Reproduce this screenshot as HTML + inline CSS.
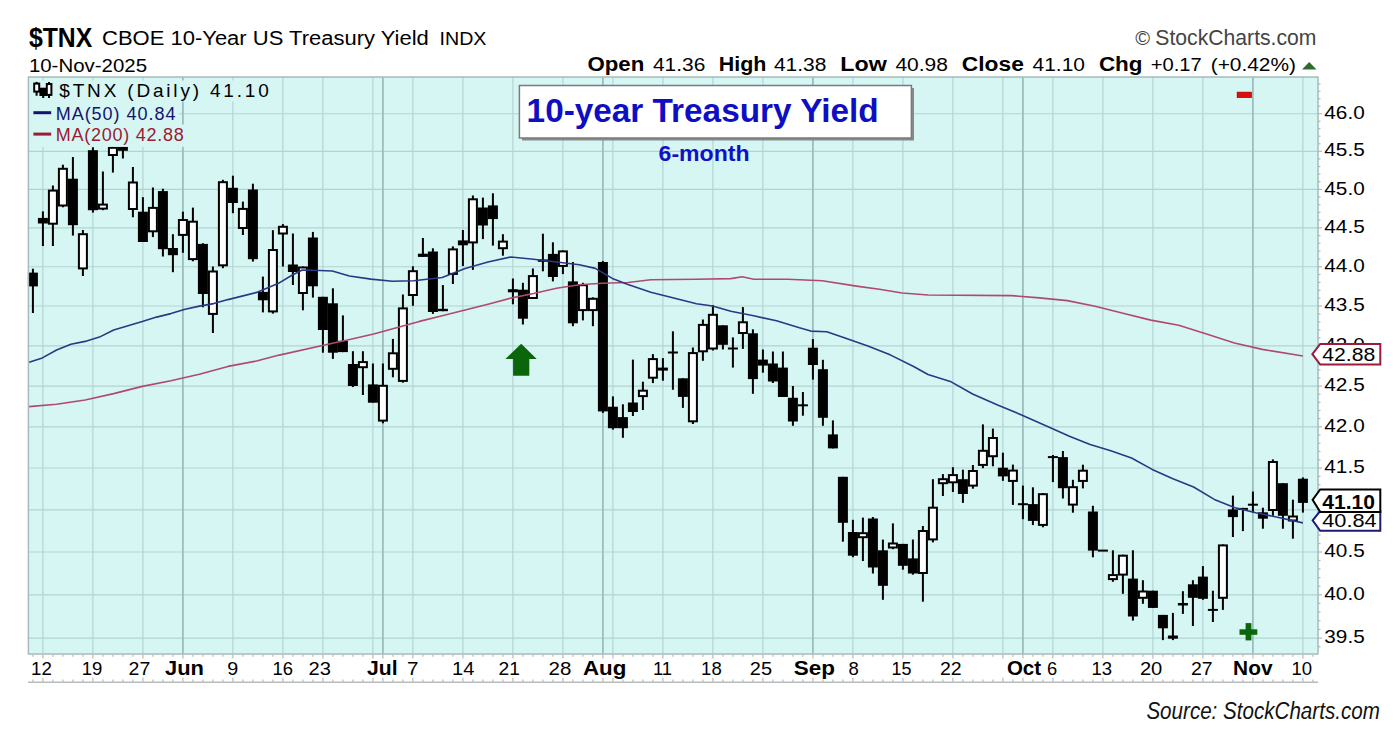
<!DOCTYPE html>
<html><head><meta charset="utf-8"><title>$TNX chart</title>
<style>
html,body{margin:0;padding:0;background:#fff;}
body{width:1400px;height:744px;overflow:hidden;}
svg{display:block;font-family:"Liberation Sans", sans-serif;}
</style></head>
<body>
<svg width="1400" height="744" viewBox="0 0 1400 744">
<rect width="1400" height="744" fill="#fff"/>
<rect x="28" y="77" width="1290" height="577" fill="#d6f6f4"/>
<line x1="28" x2="1318" y1="638.1" y2="638.1" stroke="#b3d3d1" stroke-width="1.15"/>
<line x1="28" x2="1318" y1="594.8" y2="594.8" stroke="#b3d3d1" stroke-width="1.15"/>
<line x1="28" x2="1318" y1="552.0" y2="552.0" stroke="#b3d3d1" stroke-width="1.15"/>
<line x1="28" x2="1318" y1="509.8" y2="509.8" stroke="#b3d3d1" stroke-width="1.15"/>
<line x1="28" x2="1318" y1="468.0" y2="468.0" stroke="#b3d3d1" stroke-width="1.15"/>
<line x1="28" x2="1318" y1="426.8" y2="426.8" stroke="#b3d3d1" stroke-width="1.15"/>
<line x1="28" x2="1318" y1="386.1" y2="386.1" stroke="#b3d3d1" stroke-width="1.15"/>
<line x1="28" x2="1318" y1="345.8" y2="345.8" stroke="#b3d3d1" stroke-width="1.15"/>
<line x1="28" x2="1318" y1="306.0" y2="306.0" stroke="#b3d3d1" stroke-width="1.15"/>
<line x1="28" x2="1318" y1="266.7" y2="266.7" stroke="#b3d3d1" stroke-width="1.15"/>
<line x1="28" x2="1318" y1="227.8" y2="227.8" stroke="#b3d3d1" stroke-width="1.15"/>
<line x1="28" x2="1318" y1="189.4" y2="189.4" stroke="#b3d3d1" stroke-width="1.15"/>
<line x1="28" x2="1318" y1="151.3" y2="151.3" stroke="#b3d3d1" stroke-width="1.15"/>
<line x1="28" x2="1318" y1="113.7" y2="113.7" stroke="#b3d3d1" stroke-width="1.15"/>
<line x1="42.9" x2="42.9" y1="77" y2="654" stroke="#b3d3d1" stroke-width="1.15"/>
<line x1="92.9" x2="92.9" y1="77" y2="654" stroke="#b3d3d1" stroke-width="1.15"/>
<line x1="142.9" x2="142.9" y1="77" y2="654" stroke="#b3d3d1" stroke-width="1.15"/>
<line x1="232.9" x2="232.9" y1="77" y2="654" stroke="#b3d3d1" stroke-width="1.15"/>
<line x1="282.9" x2="282.9" y1="77" y2="654" stroke="#b3d3d1" stroke-width="1.15"/>
<line x1="322.9" x2="322.9" y1="77" y2="654" stroke="#b3d3d1" stroke-width="1.15"/>
<line x1="372.9" x2="372.9" y1="77" y2="654" stroke="#b3d3d1" stroke-width="1.15"/>
<line x1="412.9" x2="412.9" y1="77" y2="654" stroke="#b3d3d1" stroke-width="1.15"/>
<line x1="462.9" x2="462.9" y1="77" y2="654" stroke="#b3d3d1" stroke-width="1.15"/>
<line x1="512.9" x2="512.9" y1="77" y2="654" stroke="#b3d3d1" stroke-width="1.15"/>
<line x1="562.9" x2="562.9" y1="77" y2="654" stroke="#b3d3d1" stroke-width="1.15"/>
<line x1="612.9" x2="612.9" y1="77" y2="654" stroke="#b3d3d1" stroke-width="1.15"/>
<line x1="662.9" x2="662.9" y1="77" y2="654" stroke="#b3d3d1" stroke-width="1.15"/>
<line x1="712.9" x2="712.9" y1="77" y2="654" stroke="#b3d3d1" stroke-width="1.15"/>
<line x1="762.9" x2="762.9" y1="77" y2="654" stroke="#b3d3d1" stroke-width="1.15"/>
<line x1="852.9" x2="852.9" y1="77" y2="654" stroke="#b3d3d1" stroke-width="1.15"/>
<line x1="902.9" x2="902.9" y1="77" y2="654" stroke="#b3d3d1" stroke-width="1.15"/>
<line x1="952.9" x2="952.9" y1="77" y2="654" stroke="#b3d3d1" stroke-width="1.15"/>
<line x1="1002.9" x2="1002.9" y1="77" y2="654" stroke="#b3d3d1" stroke-width="1.15"/>
<line x1="1052.9" x2="1052.9" y1="77" y2="654" stroke="#b3d3d1" stroke-width="1.15"/>
<line x1="1102.9" x2="1102.9" y1="77" y2="654" stroke="#b3d3d1" stroke-width="1.15"/>
<line x1="1152.9" x2="1152.9" y1="77" y2="654" stroke="#b3d3d1" stroke-width="1.15"/>
<line x1="1202.9" x2="1202.9" y1="77" y2="654" stroke="#b3d3d1" stroke-width="1.15"/>
<line x1="1302.9" x2="1302.9" y1="77" y2="654" stroke="#b3d3d1" stroke-width="1.15"/>
<line x1="182.9" x2="182.9" y1="77" y2="654" stroke="#9abebe" stroke-width="1.8"/>
<line x1="382.9" x2="382.9" y1="77" y2="654" stroke="#9abebe" stroke-width="1.8"/>
<line x1="602.9" x2="602.9" y1="77" y2="654" stroke="#9abebe" stroke-width="1.8"/>
<line x1="812.9" x2="812.9" y1="77" y2="654" stroke="#9abebe" stroke-width="1.8"/>
<line x1="1022.9" x2="1022.9" y1="77" y2="654" stroke="#9abebe" stroke-width="1.8"/>
<line x1="1252.9" x2="1252.9" y1="77" y2="654" stroke="#9abebe" stroke-width="1.8"/>
<rect x="31.9" y="268.7" width="2.0" height="44.3" fill="#000"/>
<rect x="27.9" y="272.6" width="10.0" height="13.8" fill="#000"/>
<rect x="41.9" y="211.4" width="2.0" height="34.6" fill="#000"/>
<rect x="37.9" y="217.9" width="10.0" height="5.6" fill="#000"/>
<rect x="51.9" y="185.5" width="2.0" height="60.5" fill="#000"/>
<rect x="48.9" y="190.6" width="8.0" height="33.1" fill="#fff" stroke="#000" stroke-width="2.0"/>
<rect x="61.9" y="164.7" width="2.0" height="42.6" fill="#000"/>
<rect x="58.9" y="168.8" width="8.0" height="36.7" fill="#fff" stroke="#000" stroke-width="2.0"/>
<rect x="71.9" y="157.0" width="2.0" height="78.6" fill="#000"/>
<rect x="67.9" y="178.7" width="10.0" height="46.5" fill="#000"/>
<rect x="81.9" y="230.0" width="2.0" height="46.0" fill="#000"/>
<rect x="78.9" y="234.2" width="8.0" height="34.2" fill="#fff" stroke="#000" stroke-width="2.0"/>
<rect x="91.9" y="147.3" width="2.0" height="65.3" fill="#000"/>
<rect x="87.9" y="150.2" width="10.0" height="60.0" fill="#000"/>
<rect x="101.9" y="171.5" width="2.0" height="38.7" fill="#000"/>
<rect x="98.9" y="204.6" width="8.0" height="4.0" fill="#fff" stroke="#000" stroke-width="2.0"/>
<rect x="111.9" y="146.8" width="2.0" height="25.8" fill="#000"/>
<rect x="108.9" y="147.8" width="8.0" height="7.2" fill="#fff" stroke="#000" stroke-width="2.0"/>
<rect x="121.9" y="146.8" width="2.0" height="11.7" fill="#000"/>
<rect x="117.9" y="146.8" width="10.0" height="4.0" fill="#000"/>
<rect x="131.9" y="167.0" width="2.0" height="50.3" fill="#000"/>
<rect x="128.9" y="182.5" width="8.0" height="26.5" fill="#fff" stroke="#000" stroke-width="2.0"/>
<rect x="141.9" y="197.2" width="2.0" height="44.8" fill="#000"/>
<rect x="137.9" y="211.7" width="10.0" height="30.3" fill="#000"/>
<rect x="151.9" y="187.5" width="2.0" height="49.6" fill="#000"/>
<rect x="148.9" y="207.9" width="8.0" height="23.4" fill="#fff" stroke="#000" stroke-width="2.0"/>
<rect x="161.9" y="188.7" width="2.0" height="67.8" fill="#000"/>
<rect x="157.9" y="191.1" width="10.0" height="58.1" fill="#000"/>
<rect x="171.9" y="234.2" width="2.0" height="38.0" fill="#000"/>
<rect x="167.9" y="248.0" width="10.0" height="7.2" fill="#000"/>
<rect x="181.9" y="211.7" width="2.0" height="41.1" fill="#000"/>
<rect x="178.9" y="220.0" width="8.0" height="14.9" fill="#fff" stroke="#000" stroke-width="2.0"/>
<rect x="191.9" y="207.6" width="2.0" height="53.7" fill="#000"/>
<rect x="188.9" y="221.7" width="8.0" height="37.4" fill="#fff" stroke="#000" stroke-width="2.0"/>
<rect x="201.9" y="243.2" width="2.0" height="64.1" fill="#000"/>
<rect x="197.9" y="243.9" width="10.0" height="50.1" fill="#000"/>
<rect x="211.9" y="266.5" width="2.0" height="66.5" fill="#000"/>
<rect x="208.9" y="271.5" width="8.0" height="42.4" fill="#fff" stroke="#000" stroke-width="2.0"/>
<rect x="221.9" y="179.8" width="2.0" height="88.4" fill="#000"/>
<rect x="218.9" y="182.2" width="8.0" height="83.1" fill="#fff" stroke="#000" stroke-width="2.0"/>
<rect x="231.9" y="175.7" width="2.0" height="37.5" fill="#000"/>
<rect x="227.9" y="187.8" width="10.0" height="15.2" fill="#000"/>
<rect x="241.9" y="201.6" width="2.0" height="33.4" fill="#000"/>
<rect x="238.9" y="208.9" width="8.0" height="19.1" fill="#fff" stroke="#000" stroke-width="2.0"/>
<rect x="251.9" y="183.7" width="2.0" height="77.9" fill="#000"/>
<rect x="247.9" y="189.5" width="10.0" height="69.7" fill="#000"/>
<rect x="261.9" y="276.6" width="2.0" height="35.8" fill="#000"/>
<rect x="257.9" y="291.9" width="10.0" height="8.4" fill="#000"/>
<rect x="271.9" y="230.2" width="2.0" height="83.4" fill="#000"/>
<rect x="268.9" y="250.0" width="8.0" height="61.4" fill="#fff" stroke="#000" stroke-width="2.0"/>
<rect x="281.9" y="224.1" width="2.0" height="42.4" fill="#000"/>
<rect x="278.9" y="226.8" width="8.0" height="6.7" fill="#fff" stroke="#000" stroke-width="2.0"/>
<rect x="291.9" y="233.5" width="2.0" height="51.5" fill="#000"/>
<rect x="287.9" y="264.5" width="10.0" height="7.5" fill="#000"/>
<rect x="301.9" y="266.5" width="2.0" height="43.8" fill="#000"/>
<rect x="298.9" y="267.5" width="8.0" height="25.5" fill="#fff" stroke="#000" stroke-width="2.0"/>
<rect x="311.9" y="231.9" width="2.0" height="65.7" fill="#000"/>
<rect x="307.9" y="237.5" width="10.0" height="48.8" fill="#000"/>
<rect x="321.9" y="296.8" width="2.0" height="55.9" fill="#000"/>
<rect x="317.9" y="296.8" width="10.0" height="33.2" fill="#000"/>
<rect x="331.9" y="288.3" width="2.0" height="70.6" fill="#000"/>
<rect x="327.9" y="303.3" width="10.0" height="49.4" fill="#000"/>
<rect x="341.9" y="315.4" width="2.0" height="36.7" fill="#000"/>
<rect x="337.9" y="340.8" width="10.0" height="11.3" fill="#000"/>
<rect x="351.9" y="351.2" width="2.0" height="35.9" fill="#000"/>
<rect x="347.9" y="364.0" width="10.0" height="22.0" fill="#000"/>
<rect x="361.9" y="351.2" width="2.0" height="43.8" fill="#000"/>
<rect x="358.9" y="362.1" width="8.0" height="5.1" fill="#fff" stroke="#000" stroke-width="2.0"/>
<rect x="371.9" y="363.5" width="2.0" height="39.2" fill="#000"/>
<rect x="367.9" y="384.4" width="10.0" height="18.3" fill="#000"/>
<rect x="381.9" y="363.5" width="2.0" height="59.8" fill="#000"/>
<rect x="378.9" y="385.8" width="8.0" height="34.8" fill="#fff" stroke="#000" stroke-width="2.0"/>
<rect x="391.9" y="338.9" width="2.0" height="38.4" fill="#000"/>
<rect x="388.9" y="353.3" width="8.0" height="15.5" fill="#fff" stroke="#000" stroke-width="2.0"/>
<rect x="401.9" y="294.5" width="2.0" height="88.2" fill="#000"/>
<rect x="398.9" y="308.4" width="8.0" height="72.5" fill="#fff" stroke="#000" stroke-width="2.0"/>
<rect x="411.9" y="266.3" width="2.0" height="39.5" fill="#000"/>
<rect x="408.9" y="271.2" width="8.0" height="23.8" fill="#fff" stroke="#000" stroke-width="2.0"/>
<rect x="421.9" y="238.0" width="2.0" height="18.9" fill="#000"/>
<rect x="417.9" y="253.7" width="10.0" height="3.2" fill="#000"/>
<rect x="431.9" y="248.3" width="2.0" height="65.6" fill="#000"/>
<rect x="427.9" y="251.5" width="10.0" height="60.5" fill="#000"/>
<rect x="441.9" y="285.1" width="2.0" height="26.1" fill="#000"/>
<rect x="437.9" y="308.8" width="10.0" height="2.4" fill="#000"/>
<rect x="451.9" y="246.4" width="2.0" height="37.6" fill="#000"/>
<rect x="448.9" y="249.4" width="8.0" height="24.5" fill="#fff" stroke="#000" stroke-width="2.0"/>
<rect x="461.9" y="230.0" width="2.0" height="36.0" fill="#000"/>
<rect x="457.9" y="240.4" width="10.0" height="4.9" fill="#000"/>
<rect x="471.9" y="195.5" width="2.0" height="74.4" fill="#000"/>
<rect x="468.9" y="199.3" width="8.0" height="43.1" fill="#fff" stroke="#000" stroke-width="2.0"/>
<rect x="481.9" y="197.6" width="2.0" height="41.5" fill="#000"/>
<rect x="477.9" y="207.5" width="10.0" height="18.0" fill="#000"/>
<rect x="491.9" y="193.3" width="2.0" height="52.3" fill="#000"/>
<rect x="487.9" y="205.4" width="10.0" height="13.7" fill="#000"/>
<rect x="501.9" y="234.2" width="2.0" height="21.5" fill="#000"/>
<rect x="498.9" y="241.6" width="8.0" height="6.6" fill="#fff" stroke="#000" stroke-width="2.0"/>
<rect x="511.9" y="278.5" width="2.0" height="25.8" fill="#000"/>
<rect x="507.9" y="289.2" width="10.0" height="3.1" fill="#000"/>
<rect x="521.9" y="282.8" width="2.0" height="41.7" fill="#000"/>
<rect x="517.9" y="289.7" width="10.0" height="29.0" fill="#000"/>
<rect x="531.9" y="268.5" width="2.0" height="30.5" fill="#000"/>
<rect x="528.9" y="276.1" width="8.0" height="21.9" fill="#fff" stroke="#000" stroke-width="2.0"/>
<rect x="541.9" y="233.7" width="2.0" height="37.6" fill="#000"/>
<rect x="537.9" y="259.4" width="10.0" height="2.4" fill="#000"/>
<rect x="551.9" y="242.3" width="2.0" height="39.1" fill="#000"/>
<rect x="547.9" y="253.9" width="10.0" height="23.1" fill="#000"/>
<rect x="561.9" y="250.4" width="2.0" height="23.7" fill="#000"/>
<rect x="558.9" y="251.4" width="8.0" height="14.5" fill="#fff" stroke="#000" stroke-width="2.0"/>
<rect x="571.9" y="262.0" width="2.0" height="64.2" fill="#000"/>
<rect x="567.9" y="281.4" width="10.0" height="41.9" fill="#000"/>
<rect x="581.9" y="282.8" width="2.0" height="37.6" fill="#000"/>
<rect x="578.9" y="285.2" width="8.0" height="24.9" fill="#fff" stroke="#000" stroke-width="2.0"/>
<rect x="591.9" y="297.3" width="2.0" height="28.9" fill="#000"/>
<rect x="588.9" y="298.8" width="8.0" height="11.3" fill="#fff" stroke="#000" stroke-width="2.0"/>
<rect x="601.9" y="261.1" width="2.0" height="151.8" fill="#000"/>
<rect x="597.9" y="262.0" width="10.0" height="149.4" fill="#000"/>
<rect x="611.9" y="396.4" width="2.0" height="33.2" fill="#000"/>
<rect x="607.9" y="406.7" width="10.0" height="21.5" fill="#000"/>
<rect x="621.9" y="404.3" width="2.0" height="33.5" fill="#000"/>
<rect x="617.9" y="417.1" width="10.0" height="11.1" fill="#000"/>
<rect x="631.9" y="359.6" width="2.0" height="56.4" fill="#000"/>
<rect x="627.9" y="402.5" width="10.0" height="9.5" fill="#000"/>
<rect x="641.9" y="381.7" width="2.0" height="28.3" fill="#000"/>
<rect x="638.9" y="390.7" width="8.0" height="5.4" fill="#fff" stroke="#000" stroke-width="2.0"/>
<rect x="651.9" y="354.1" width="2.0" height="29.0" fill="#000"/>
<rect x="648.9" y="359.1" width="8.0" height="18.6" fill="#fff" stroke="#000" stroke-width="2.0"/>
<rect x="661.9" y="358.1" width="2.0" height="22.6" fill="#000"/>
<rect x="657.9" y="367.6" width="10.0" height="3.0" fill="#000"/>
<rect x="671.9" y="331.3" width="2.0" height="58.5" fill="#000"/>
<rect x="667.9" y="351.5" width="10.0" height="2.0" fill="#000"/>
<rect x="681.9" y="378.3" width="2.0" height="29.6" fill="#000"/>
<rect x="677.9" y="378.3" width="10.0" height="18.6" fill="#000"/>
<rect x="691.9" y="347.5" width="2.0" height="76.5" fill="#000"/>
<rect x="688.9" y="353.1" width="8.0" height="68.2" fill="#fff" stroke="#000" stroke-width="2.0"/>
<rect x="701.9" y="319.5" width="2.0" height="41.3" fill="#000"/>
<rect x="698.9" y="324.9" width="8.0" height="26.4" fill="#fff" stroke="#000" stroke-width="2.0"/>
<rect x="711.9" y="305.1" width="2.0" height="45.4" fill="#000"/>
<rect x="708.9" y="314.8" width="8.0" height="33.7" fill="#fff" stroke="#000" stroke-width="2.0"/>
<rect x="721.9" y="325.3" width="2.0" height="24.2" fill="#000"/>
<rect x="717.9" y="325.3" width="10.0" height="19.5" fill="#000"/>
<rect x="731.9" y="337.4" width="2.0" height="30.2" fill="#000"/>
<rect x="727.9" y="347.5" width="10.0" height="2.0" fill="#000"/>
<rect x="741.9" y="307.1" width="2.0" height="41.8" fill="#000"/>
<rect x="738.9" y="322.3" width="8.0" height="10.7" fill="#fff" stroke="#000" stroke-width="2.0"/>
<rect x="751.9" y="329.3" width="2.0" height="64.5" fill="#000"/>
<rect x="747.9" y="333.3" width="10.0" height="45.8" fill="#000"/>
<rect x="761.9" y="349.5" width="2.0" height="23.2" fill="#000"/>
<rect x="757.9" y="359.6" width="10.0" height="6.0" fill="#000"/>
<rect x="771.9" y="351.5" width="2.0" height="31.5" fill="#000"/>
<rect x="767.9" y="363.5" width="10.0" height="18.0" fill="#000"/>
<rect x="781.9" y="351.5" width="2.0" height="45.5" fill="#000"/>
<rect x="777.9" y="367.6" width="10.0" height="29.4" fill="#000"/>
<rect x="791.9" y="386.0" width="2.0" height="39.8" fill="#000"/>
<rect x="787.9" y="397.8" width="10.0" height="23.7" fill="#000"/>
<rect x="801.9" y="392.0" width="2.0" height="23.7" fill="#000"/>
<rect x="797.9" y="404.3" width="10.0" height="2.0" fill="#000"/>
<rect x="811.9" y="339.1" width="2.0" height="40.5" fill="#000"/>
<rect x="807.9" y="347.7" width="10.0" height="17.3" fill="#000"/>
<rect x="821.9" y="359.8" width="2.0" height="66.0" fill="#000"/>
<rect x="817.9" y="369.2" width="10.0" height="48.6" fill="#000"/>
<rect x="831.9" y="420.4" width="2.0" height="28.0" fill="#000"/>
<rect x="827.9" y="434.4" width="10.0" height="14.0" fill="#000"/>
<rect x="841.9" y="476.8" width="2.0" height="64.9" fill="#000"/>
<rect x="837.9" y="476.8" width="10.0" height="46.0" fill="#000"/>
<rect x="851.9" y="519.8" width="2.0" height="37.4" fill="#000"/>
<rect x="847.9" y="532.0" width="10.0" height="23.7" fill="#000"/>
<rect x="861.9" y="517.6" width="2.0" height="43.4" fill="#000"/>
<rect x="858.9" y="533.2" width="8.0" height="4.0" fill="#fff" stroke="#000" stroke-width="2.0"/>
<rect x="871.9" y="517.0" width="2.0" height="56.5" fill="#000"/>
<rect x="867.9" y="518.5" width="10.0" height="49.0" fill="#000"/>
<rect x="881.9" y="539.6" width="2.0" height="60.2" fill="#000"/>
<rect x="877.9" y="550.3" width="10.0" height="35.5" fill="#000"/>
<rect x="891.9" y="523.4" width="2.0" height="25.8" fill="#000"/>
<rect x="888.9" y="543.5" width="8.0" height="4.0" fill="#fff" stroke="#000" stroke-width="2.0"/>
<rect x="901.9" y="543.9" width="2.0" height="25.8" fill="#000"/>
<rect x="897.9" y="543.9" width="10.0" height="21.9" fill="#000"/>
<rect x="911.9" y="539.5" width="2.0" height="35.2" fill="#000"/>
<rect x="907.9" y="558.4" width="10.0" height="15.1" fill="#000"/>
<rect x="921.9" y="526.0" width="2.0" height="75.7" fill="#000"/>
<rect x="918.9" y="531.0" width="8.0" height="42.0" fill="#fff" stroke="#000" stroke-width="2.0"/>
<rect x="931.9" y="479.2" width="2.0" height="63.2" fill="#000"/>
<rect x="928.9" y="507.7" width="8.0" height="31.7" fill="#fff" stroke="#000" stroke-width="2.0"/>
<rect x="941.9" y="474.1" width="2.0" height="21.9" fill="#000"/>
<rect x="938.9" y="479.2" width="8.0" height="4.0" fill="#fff" stroke="#000" stroke-width="2.0"/>
<rect x="951.9" y="467.2" width="2.0" height="24.8" fill="#000"/>
<rect x="948.9" y="475.1" width="8.0" height="7.2" fill="#fff" stroke="#000" stroke-width="2.0"/>
<rect x="961.9" y="469.7" width="2.0" height="33.2" fill="#000"/>
<rect x="957.9" y="479.2" width="10.0" height="14.8" fill="#000"/>
<rect x="971.9" y="465.0" width="2.0" height="23.7" fill="#000"/>
<rect x="968.9" y="471.0" width="8.0" height="14.6" fill="#fff" stroke="#000" stroke-width="2.0"/>
<rect x="981.9" y="424.4" width="2.0" height="43.8" fill="#000"/>
<rect x="978.9" y="450.8" width="8.0" height="14.1" fill="#fff" stroke="#000" stroke-width="2.0"/>
<rect x="991.9" y="428.6" width="2.0" height="37.7" fill="#000"/>
<rect x="988.9" y="438.0" width="8.0" height="18.2" fill="#fff" stroke="#000" stroke-width="2.0"/>
<rect x="1001.9" y="452.7" width="2.0" height="28.1" fill="#000"/>
<rect x="997.9" y="467.7" width="10.0" height="8.7" fill="#000"/>
<rect x="1011.9" y="464.6" width="2.0" height="40.3" fill="#000"/>
<rect x="1008.9" y="470.6" width="8.0" height="10.3" fill="#fff" stroke="#000" stroke-width="2.0"/>
<rect x="1021.9" y="485.6" width="2.0" height="33.6" fill="#000"/>
<rect x="1017.9" y="503.2" width="10.0" height="2.0" fill="#000"/>
<rect x="1031.9" y="487.3" width="2.0" height="37.8" fill="#000"/>
<rect x="1027.9" y="504.1" width="10.0" height="16.8" fill="#000"/>
<rect x="1041.9" y="493.2" width="2.0" height="34.1" fill="#000"/>
<rect x="1038.9" y="494.2" width="8.0" height="30.7" fill="#fff" stroke="#000" stroke-width="2.0"/>
<rect x="1051.9" y="455.0" width="2.0" height="27.1" fill="#000"/>
<rect x="1047.9" y="456.1" width="10.0" height="2.0" fill="#000"/>
<rect x="1061.9" y="451.0" width="2.0" height="47.5" fill="#000"/>
<rect x="1057.9" y="457.1" width="10.0" height="31.1" fill="#000"/>
<rect x="1071.9" y="479.8" width="2.0" height="32.9" fill="#000"/>
<rect x="1068.9" y="487.2" width="8.0" height="17.4" fill="#fff" stroke="#000" stroke-width="2.0"/>
<rect x="1081.9" y="464.7" width="2.0" height="23.7" fill="#000"/>
<rect x="1078.9" y="470.7" width="8.0" height="10.2" fill="#fff" stroke="#000" stroke-width="2.0"/>
<rect x="1091.9" y="505.8" width="2.0" height="51.5" fill="#000"/>
<rect x="1087.9" y="511.5" width="10.0" height="39.1" fill="#000"/>
<rect x="1097.9" y="549.6" width="10.0" height="2.0" fill="#000"/>
<rect x="1111.9" y="550.3" width="2.0" height="31.5" fill="#000"/>
<rect x="1108.9" y="575.1" width="8.0" height="4.0" fill="#fff" stroke="#000" stroke-width="2.0"/>
<rect x="1121.9" y="554.7" width="2.0" height="39.1" fill="#000"/>
<rect x="1118.9" y="555.7" width="8.0" height="18.9" fill="#fff" stroke="#000" stroke-width="2.0"/>
<rect x="1131.9" y="550.3" width="2.0" height="70.3" fill="#000"/>
<rect x="1127.9" y="578.6" width="10.0" height="37.9" fill="#000"/>
<rect x="1141.9" y="580.2" width="2.0" height="23.6" fill="#000"/>
<rect x="1138.9" y="591.5" width="8.0" height="6.3" fill="#fff" stroke="#000" stroke-width="2.0"/>
<rect x="1151.9" y="590.7" width="2.0" height="17.2" fill="#000"/>
<rect x="1147.9" y="590.7" width="10.0" height="17.2" fill="#000"/>
<rect x="1161.9" y="614.9" width="2.0" height="25.2" fill="#000"/>
<rect x="1157.9" y="614.9" width="10.0" height="13.4" fill="#000"/>
<rect x="1171.9" y="612.9" width="2.0" height="27.2" fill="#000"/>
<rect x="1167.9" y="635.5" width="10.0" height="3.2" fill="#000"/>
<rect x="1181.9" y="591.2" width="2.0" height="22.7" fill="#000"/>
<rect x="1177.9" y="603.0" width="10.0" height="2.5" fill="#000"/>
<rect x="1191.9" y="580.2" width="2.0" height="45.8" fill="#000"/>
<rect x="1187.9" y="584.3" width="10.0" height="13.5" fill="#000"/>
<rect x="1201.9" y="566.1" width="2.0" height="33.7" fill="#000"/>
<rect x="1197.9" y="576.6" width="10.0" height="22.2" fill="#000"/>
<rect x="1211.9" y="590.7" width="2.0" height="31.3" fill="#000"/>
<rect x="1207.9" y="608.9" width="10.0" height="2.0" fill="#000"/>
<rect x="1221.9" y="544.4" width="2.0" height="65.5" fill="#000"/>
<rect x="1218.9" y="545.4" width="8.0" height="52.4" fill="#fff" stroke="#000" stroke-width="2.0"/>
<rect x="1231.9" y="495.6" width="2.0" height="41.4" fill="#000"/>
<rect x="1227.9" y="509.4" width="10.0" height="7.7" fill="#000"/>
<rect x="1241.9" y="507.9" width="2.0" height="23.2" fill="#000"/>
<rect x="1237.9" y="507.9" width="10.0" height="2.0" fill="#000"/>
<rect x="1251.9" y="491.6" width="2.0" height="21.0" fill="#000"/>
<rect x="1247.9" y="503.7" width="10.0" height="2.0" fill="#000"/>
<rect x="1261.9" y="507.7" width="2.0" height="21.0" fill="#000"/>
<rect x="1257.9" y="512.3" width="10.0" height="6.4" fill="#000"/>
<rect x="1271.9" y="459.4" width="2.0" height="56.4" fill="#000"/>
<rect x="1268.9" y="462.0" width="8.0" height="48.0" fill="#fff" stroke="#000" stroke-width="2.0"/>
<rect x="1281.9" y="483.2" width="2.0" height="45.5" fill="#000"/>
<rect x="1277.9" y="483.2" width="10.0" height="32.6" fill="#000"/>
<rect x="1291.9" y="499.7" width="2.0" height="39.0" fill="#000"/>
<rect x="1288.9" y="516.5" width="8.0" height="4.0" fill="#fff" stroke="#000" stroke-width="2.0"/>
<rect x="1301.9" y="477.4" width="2.0" height="35.2" fill="#000"/>
<rect x="1297.9" y="478.7" width="10.0" height="24.2" fill="#000"/>
<polyline points="29.1,406.6 56.6,404.3 85.1,400.0 113.7,393.6 142.3,386.4 170.9,380.7 199.4,374.3 228.0,366.4 256.5,361.0 279.3,355.1 328.0,344.3 350.8,339.2 373.7,334.0 396.5,327.8 419.4,321.4 442.2,315.7 465.1,310.0 488.0,304.3 510.8,298.1 533.6,293.5 556.5,288.3 579.3,284.8 602.2,283.2 628.0,282.5 650.8,279.7 696.5,279.2 730.8,278.6 742.2,276.8 753.7,279.2 787.9,279.2 822.2,280.8 856.5,286.1 879.3,289.3 902.2,293.0 928.0,295.0 1011.6,295.6 1039.4,297.9 1067.3,300.6 1095.1,306.2 1123.0,313.2 1150.8,320.1 1178.7,325.2 1206.6,334.1 1234.4,343.0 1262.3,349.4 1302.9,356.0" fill="none" stroke="#b04a6c" stroke-width="1.6" stroke-linejoin="round"/>
<polyline points="29.1,362.2 42.3,357.9 56.6,350.0 70.9,344.3 85.1,341.4 99.4,337.1 113.7,330.0 128.0,325.7 142.3,321.4 156.6,317.1 170.9,313.6 185.1,309.3 199.4,306.1 213.7,303.6 228.0,299.6 256.6,292.4 278.0,283.6 292.3,275.0 302.3,270.0 319.4,270.5 332.3,271.0 349.4,276.0 370.9,279.1 392.3,281.2 413.7,280.7 442.2,277.5 465.1,268.4 488.0,262.0 510.8,257.0 533.6,259.2 556.5,262.0 579.3,264.7 595.3,268.4 613.6,279.1 628.0,284.5 650.8,292.3 673.7,298.0 696.5,303.7 712.5,306.0 730.8,311.2 753.7,315.8 776.5,320.8 799.4,327.7 810.8,331.1 826.8,331.8 845.0,338.0 867.9,346.0 890.7,355.1 913.6,366.5 928.0,374.5 950.3,381.4 972.6,394.0 997.6,405.1 1022.7,415.4 1048.7,426.9 1069.4,436.2 1090.1,444.5 1110.8,450.7 1131.5,458.0 1152.2,469.4 1172.9,478.7 1193.6,487.0 1214.3,499.4 1235.0,507.7 1255.7,512.8 1276.4,517.0 1302.9,522.9" fill="none" stroke="#2a3884" stroke-width="1.6" stroke-linejoin="round"/>
<rect x="29" y="80.5" width="247" height="21" fill="#d6f6f4"/>
<rect x="29" y="101.5" width="150" height="23" fill="#d6f6f4"/>
<rect x="29" y="124.5" width="157" height="22.3" fill="#d6f6f4"/>
<g fill="#000"><rect x="35.6" y="81.9" width="2" height="13.8"/><rect x="34.2" y="83.6" width="5" height="8" fill="#fff" stroke="#000" stroke-width="2"/><rect x="39.4" y="87.7" width="7.2" height="8.3"/><rect x="42.2" y="95" width="2" height="3"/><rect x="48" y="82" width="2" height="16"/><rect x="46.8" y="84" width="4.6" height="10.9" fill="#fff" stroke="#000" stroke-width="2"/></g>
<text x="59.3" y="97.4" font-size="19" font-weight="normal" font-style="normal" fill="#000" text-anchor="start" textLength="209.5" lengthAdjust="spacing">$TNX (Daily) 41.10</text>
<rect x="33.4" y="111.2" width="17.8" height="3" fill="#14146e"/>
<text x="55.7" y="119.8" font-size="18" font-weight="normal" font-style="normal" fill="#14146e" text-anchor="start" textLength="119.8" lengthAdjust="spacing">MA(50) 40.84</text>
<rect x="33.4" y="132.6" width="17.8" height="3" fill="#9a1b33"/>
<text x="55.7" y="141.2" font-size="18" font-weight="normal" font-style="normal" fill="#9a1b33" text-anchor="start" textLength="128.0" lengthAdjust="spacing">MA(200) 42.88</text>
<rect x="522" y="88" width="392" height="52.5" fill="#8a8a8a"/>
<rect x="519.4" y="85.5" width="392" height="52.5" fill="#fff" stroke="#7a7a7a" stroke-width="1.5"/>
<text x="526.6" y="122.4" font-size="33" font-weight="bold" font-style="normal" fill="#0e0ec4" text-anchor="start" textLength="352.0" lengthAdjust="spacingAndGlyphs">10-year Treasury Yield</text>
<text x="658.6" y="160.8" font-size="22.5" font-weight="bold" font-style="normal" fill="#1010c8" text-anchor="start" textLength="91.0" lengthAdjust="spacingAndGlyphs">6-month</text>
<polygon points="521.2,343.7 536.7,358.9 529.3,358.9 529.3,375.7 513.1,375.7 513.1,358.9 505.4,358.9" fill="#0b650b"/>
<rect x="1237.1" y="92.1" width="14.5" height="5.6" fill="#e00c0c" stroke="#900" stroke-width="0.6"/>
<rect x="1239.5" y="629.3" width="17.8" height="5.5" fill="#0b650b"/>
<rect x="1245.6" y="623.1" width="5.8" height="17.3" fill="#0b650b"/>
<rect x="28.4" y="77" width="1289.6" height="577" fill="none" stroke="#a8baba" stroke-width="1.5"/>
<line x1="1318" x2="1320.5" y1="646.8" y2="646.8" stroke="#b0b8b8" stroke-width="1.2"/>
<line x1="1318" x2="1322" y1="638.1" y2="638.1" stroke="#b0b8b8" stroke-width="1.2"/>
<line x1="1318" x2="1320.5" y1="629.4" y2="629.4" stroke="#b0b8b8" stroke-width="1.2"/>
<line x1="1318" x2="1320.5" y1="620.7" y2="620.7" stroke="#b0b8b8" stroke-width="1.2"/>
<line x1="1318" x2="1320.5" y1="612.0" y2="612.0" stroke="#b0b8b8" stroke-width="1.2"/>
<line x1="1318" x2="1320.5" y1="603.4" y2="603.4" stroke="#b0b8b8" stroke-width="1.2"/>
<line x1="1318" x2="1322" y1="594.8" y2="594.8" stroke="#b0b8b8" stroke-width="1.2"/>
<line x1="1318" x2="1320.5" y1="586.2" y2="586.2" stroke="#b0b8b8" stroke-width="1.2"/>
<line x1="1318" x2="1320.5" y1="577.6" y2="577.6" stroke="#b0b8b8" stroke-width="1.2"/>
<line x1="1318" x2="1320.5" y1="569.0" y2="569.0" stroke="#b0b8b8" stroke-width="1.2"/>
<line x1="1318" x2="1320.5" y1="560.5" y2="560.5" stroke="#b0b8b8" stroke-width="1.2"/>
<line x1="1318" x2="1322" y1="552.0" y2="552.0" stroke="#b0b8b8" stroke-width="1.2"/>
<line x1="1318" x2="1320.5" y1="543.5" y2="543.5" stroke="#b0b8b8" stroke-width="1.2"/>
<line x1="1318" x2="1320.5" y1="535.0" y2="535.0" stroke="#b0b8b8" stroke-width="1.2"/>
<line x1="1318" x2="1320.5" y1="526.6" y2="526.6" stroke="#b0b8b8" stroke-width="1.2"/>
<line x1="1318" x2="1320.5" y1="518.2" y2="518.2" stroke="#b0b8b8" stroke-width="1.2"/>
<line x1="1318" x2="1322" y1="509.8" y2="509.8" stroke="#b0b8b8" stroke-width="1.2"/>
<line x1="1318" x2="1320.5" y1="501.4" y2="501.4" stroke="#b0b8b8" stroke-width="1.2"/>
<line x1="1318" x2="1320.5" y1="493.0" y2="493.0" stroke="#b0b8b8" stroke-width="1.2"/>
<line x1="1318" x2="1320.5" y1="484.7" y2="484.7" stroke="#b0b8b8" stroke-width="1.2"/>
<line x1="1318" x2="1320.5" y1="476.4" y2="476.4" stroke="#b0b8b8" stroke-width="1.2"/>
<line x1="1318" x2="1322" y1="468.0" y2="468.0" stroke="#b0b8b8" stroke-width="1.2"/>
<line x1="1318" x2="1320.5" y1="459.8" y2="459.8" stroke="#b0b8b8" stroke-width="1.2"/>
<line x1="1318" x2="1320.5" y1="451.5" y2="451.5" stroke="#b0b8b8" stroke-width="1.2"/>
<line x1="1318" x2="1320.5" y1="443.3" y2="443.3" stroke="#b0b8b8" stroke-width="1.2"/>
<line x1="1318" x2="1320.5" y1="435.0" y2="435.0" stroke="#b0b8b8" stroke-width="1.2"/>
<line x1="1318" x2="1322" y1="426.8" y2="426.8" stroke="#b0b8b8" stroke-width="1.2"/>
<line x1="1318" x2="1320.5" y1="418.6" y2="418.6" stroke="#b0b8b8" stroke-width="1.2"/>
<line x1="1318" x2="1320.5" y1="410.5" y2="410.5" stroke="#b0b8b8" stroke-width="1.2"/>
<line x1="1318" x2="1320.5" y1="402.3" y2="402.3" stroke="#b0b8b8" stroke-width="1.2"/>
<line x1="1318" x2="1320.5" y1="394.2" y2="394.2" stroke="#b0b8b8" stroke-width="1.2"/>
<line x1="1318" x2="1322" y1="386.1" y2="386.1" stroke="#b0b8b8" stroke-width="1.2"/>
<line x1="1318" x2="1320.5" y1="378.0" y2="378.0" stroke="#b0b8b8" stroke-width="1.2"/>
<line x1="1318" x2="1320.5" y1="369.9" y2="369.9" stroke="#b0b8b8" stroke-width="1.2"/>
<line x1="1318" x2="1320.5" y1="361.9" y2="361.9" stroke="#b0b8b8" stroke-width="1.2"/>
<line x1="1318" x2="1320.5" y1="353.8" y2="353.8" stroke="#b0b8b8" stroke-width="1.2"/>
<line x1="1318" x2="1322" y1="345.8" y2="345.8" stroke="#b0b8b8" stroke-width="1.2"/>
<line x1="1318" x2="1320.5" y1="337.8" y2="337.8" stroke="#b0b8b8" stroke-width="1.2"/>
<line x1="1318" x2="1320.5" y1="329.9" y2="329.9" stroke="#b0b8b8" stroke-width="1.2"/>
<line x1="1318" x2="1320.5" y1="321.9" y2="321.9" stroke="#b0b8b8" stroke-width="1.2"/>
<line x1="1318" x2="1320.5" y1="314.0" y2="314.0" stroke="#b0b8b8" stroke-width="1.2"/>
<line x1="1318" x2="1322" y1="306.0" y2="306.0" stroke="#b0b8b8" stroke-width="1.2"/>
<line x1="1318" x2="1320.5" y1="298.1" y2="298.1" stroke="#b0b8b8" stroke-width="1.2"/>
<line x1="1318" x2="1320.5" y1="290.3" y2="290.3" stroke="#b0b8b8" stroke-width="1.2"/>
<line x1="1318" x2="1320.5" y1="282.4" y2="282.4" stroke="#b0b8b8" stroke-width="1.2"/>
<line x1="1318" x2="1320.5" y1="274.5" y2="274.5" stroke="#b0b8b8" stroke-width="1.2"/>
<line x1="1318" x2="1322" y1="266.7" y2="266.7" stroke="#b0b8b8" stroke-width="1.2"/>
<line x1="1318" x2="1320.5" y1="258.9" y2="258.9" stroke="#b0b8b8" stroke-width="1.2"/>
<line x1="1318" x2="1320.5" y1="251.1" y2="251.1" stroke="#b0b8b8" stroke-width="1.2"/>
<line x1="1318" x2="1320.5" y1="243.3" y2="243.3" stroke="#b0b8b8" stroke-width="1.2"/>
<line x1="1318" x2="1320.5" y1="235.6" y2="235.6" stroke="#b0b8b8" stroke-width="1.2"/>
<line x1="1318" x2="1322" y1="227.8" y2="227.8" stroke="#b0b8b8" stroke-width="1.2"/>
<line x1="1318" x2="1320.5" y1="220.1" y2="220.1" stroke="#b0b8b8" stroke-width="1.2"/>
<line x1="1318" x2="1320.5" y1="212.4" y2="212.4" stroke="#b0b8b8" stroke-width="1.2"/>
<line x1="1318" x2="1320.5" y1="204.7" y2="204.7" stroke="#b0b8b8" stroke-width="1.2"/>
<line x1="1318" x2="1320.5" y1="197.0" y2="197.0" stroke="#b0b8b8" stroke-width="1.2"/>
<line x1="1318" x2="1322" y1="189.4" y2="189.4" stroke="#b0b8b8" stroke-width="1.2"/>
<line x1="1318" x2="1320.5" y1="181.7" y2="181.7" stroke="#b0b8b8" stroke-width="1.2"/>
<line x1="1318" x2="1320.5" y1="174.1" y2="174.1" stroke="#b0b8b8" stroke-width="1.2"/>
<line x1="1318" x2="1320.5" y1="166.5" y2="166.5" stroke="#b0b8b8" stroke-width="1.2"/>
<line x1="1318" x2="1320.5" y1="158.9" y2="158.9" stroke="#b0b8b8" stroke-width="1.2"/>
<line x1="1318" x2="1322" y1="151.3" y2="151.3" stroke="#b0b8b8" stroke-width="1.2"/>
<line x1="1318" x2="1320.5" y1="143.8" y2="143.8" stroke="#b0b8b8" stroke-width="1.2"/>
<line x1="1318" x2="1320.5" y1="136.2" y2="136.2" stroke="#b0b8b8" stroke-width="1.2"/>
<line x1="1318" x2="1320.5" y1="128.7" y2="128.7" stroke="#b0b8b8" stroke-width="1.2"/>
<line x1="1318" x2="1320.5" y1="121.2" y2="121.2" stroke="#b0b8b8" stroke-width="1.2"/>
<line x1="1318" x2="1322" y1="113.7" y2="113.7" stroke="#b0b8b8" stroke-width="1.2"/>
<line x1="1318" x2="1320.5" y1="106.2" y2="106.2" stroke="#b0b8b8" stroke-width="1.2"/>
<line x1="1318" x2="1320.5" y1="98.8" y2="98.8" stroke="#b0b8b8" stroke-width="1.2"/>
<line x1="1318" x2="1320.5" y1="91.3" y2="91.3" stroke="#b0b8b8" stroke-width="1.2"/>
<line x1="1318" x2="1320.5" y1="83.9" y2="83.9" stroke="#b0b8b8" stroke-width="1.2"/>
<text x="1324.3" y="643.2" font-size="18.5" font-weight="normal" font-style="normal" fill="#000" text-anchor="start" textLength="40.4" lengthAdjust="spacingAndGlyphs">39.5</text>
<text x="1324.3" y="599.9" font-size="18.5" font-weight="normal" font-style="normal" fill="#000" text-anchor="start" textLength="40.4" lengthAdjust="spacingAndGlyphs">40.0</text>
<text x="1324.3" y="557.1" font-size="18.5" font-weight="normal" font-style="normal" fill="#000" text-anchor="start" textLength="40.4" lengthAdjust="spacingAndGlyphs">40.5</text>
<text x="1324.3" y="514.9" font-size="18.5" font-weight="normal" font-style="normal" fill="#000" text-anchor="start" textLength="40.4" lengthAdjust="spacingAndGlyphs">41.0</text>
<text x="1324.3" y="473.1" font-size="18.5" font-weight="normal" font-style="normal" fill="#000" text-anchor="start" textLength="40.4" lengthAdjust="spacingAndGlyphs">41.5</text>
<text x="1324.3" y="431.9" font-size="18.5" font-weight="normal" font-style="normal" fill="#000" text-anchor="start" textLength="40.4" lengthAdjust="spacingAndGlyphs">42.0</text>
<text x="1324.3" y="391.2" font-size="18.5" font-weight="normal" font-style="normal" fill="#000" text-anchor="start" textLength="40.4" lengthAdjust="spacingAndGlyphs">42.5</text>
<text x="1324.3" y="350.9" font-size="18.5" font-weight="normal" font-style="normal" fill="#000" text-anchor="start" textLength="40.4" lengthAdjust="spacingAndGlyphs">43.0</text>
<text x="1324.3" y="311.1" font-size="18.5" font-weight="normal" font-style="normal" fill="#000" text-anchor="start" textLength="40.4" lengthAdjust="spacingAndGlyphs">43.5</text>
<text x="1324.3" y="271.8" font-size="18.5" font-weight="normal" font-style="normal" fill="#000" text-anchor="start" textLength="40.4" lengthAdjust="spacingAndGlyphs">44.0</text>
<text x="1324.3" y="232.9" font-size="18.5" font-weight="normal" font-style="normal" fill="#000" text-anchor="start" textLength="40.4" lengthAdjust="spacingAndGlyphs">44.5</text>
<text x="1324.3" y="194.5" font-size="18.5" font-weight="normal" font-style="normal" fill="#000" text-anchor="start" textLength="40.4" lengthAdjust="spacingAndGlyphs">45.0</text>
<text x="1324.3" y="156.4" font-size="18.5" font-weight="normal" font-style="normal" fill="#000" text-anchor="start" textLength="40.4" lengthAdjust="spacingAndGlyphs">45.5</text>
<text x="1324.3" y="118.8" font-size="18.5" font-weight="normal" font-style="normal" fill="#000" text-anchor="start" textLength="40.4" lengthAdjust="spacingAndGlyphs">46.0</text>
<polygon points="1312.6,520.3 1320.2,511 1380.3,511 1380.3,530.8 1320.2,530.8" fill="#fff" stroke="#1c1c72" stroke-width="2"/>
<text x="1322.2" y="526.8" font-size="18.5" font-weight="normal" font-style="normal" fill="#000" text-anchor="start" textLength="54.5" lengthAdjust="spacingAndGlyphs">40.84</text>
<polygon points="1312.6,499.8 1320.2,489.5 1380.3,489.5 1380.3,511.9 1320.2,511.9" fill="#fff" stroke="#000" stroke-width="2"/>
<text x="1322.3" y="508.6" font-size="20" font-weight="bold" font-style="normal" fill="#000" text-anchor="start" textLength="52.7" lengthAdjust="spacingAndGlyphs">41.10</text>
<polygon points="1312.4,354.2 1320.2,344 1380.3,344 1380.3,364.6 1320.2,364.6" fill="#fff" stroke="#9a1b3b" stroke-width="2"/>
<text x="1322.2" y="361.4" font-size="18.5" font-weight="normal" font-style="normal" fill="#000" text-anchor="start" textLength="53.0" lengthAdjust="spacingAndGlyphs">42.88</text>
<line x1="28" x2="1318" y1="682.3" y2="682.3" stroke="#b8bcbc" stroke-width="1.6"/>
<line x1="32.9" x2="32.9" y1="654" y2="656.8" stroke="#c0c4c4" stroke-width="1.4"/>
<line x1="32.9" x2="32.9" y1="679.4" y2="682" stroke="#c0c4c4" stroke-width="1.4"/>
<line x1="42.9" x2="42.9" y1="654" y2="658.5" stroke="#c0c4c4" stroke-width="1.4"/>
<line x1="42.9" x2="42.9" y1="677.8" y2="682" stroke="#c0c4c4" stroke-width="1.4"/>
<line x1="52.9" x2="52.9" y1="654" y2="656.8" stroke="#c0c4c4" stroke-width="1.4"/>
<line x1="52.9" x2="52.9" y1="679.4" y2="682" stroke="#c0c4c4" stroke-width="1.4"/>
<line x1="62.9" x2="62.9" y1="654" y2="656.8" stroke="#c0c4c4" stroke-width="1.4"/>
<line x1="62.9" x2="62.9" y1="679.4" y2="682" stroke="#c0c4c4" stroke-width="1.4"/>
<line x1="72.9" x2="72.9" y1="654" y2="656.8" stroke="#c0c4c4" stroke-width="1.4"/>
<line x1="72.9" x2="72.9" y1="679.4" y2="682" stroke="#c0c4c4" stroke-width="1.4"/>
<line x1="82.9" x2="82.9" y1="654" y2="656.8" stroke="#c0c4c4" stroke-width="1.4"/>
<line x1="82.9" x2="82.9" y1="679.4" y2="682" stroke="#c0c4c4" stroke-width="1.4"/>
<line x1="92.9" x2="92.9" y1="654" y2="658.5" stroke="#c0c4c4" stroke-width="1.4"/>
<line x1="92.9" x2="92.9" y1="677.8" y2="682" stroke="#c0c4c4" stroke-width="1.4"/>
<line x1="102.9" x2="102.9" y1="654" y2="656.8" stroke="#c0c4c4" stroke-width="1.4"/>
<line x1="102.9" x2="102.9" y1="679.4" y2="682" stroke="#c0c4c4" stroke-width="1.4"/>
<line x1="112.9" x2="112.9" y1="654" y2="656.8" stroke="#c0c4c4" stroke-width="1.4"/>
<line x1="112.9" x2="112.9" y1="679.4" y2="682" stroke="#c0c4c4" stroke-width="1.4"/>
<line x1="122.9" x2="122.9" y1="654" y2="656.8" stroke="#c0c4c4" stroke-width="1.4"/>
<line x1="122.9" x2="122.9" y1="679.4" y2="682" stroke="#c0c4c4" stroke-width="1.4"/>
<line x1="132.9" x2="132.9" y1="654" y2="656.8" stroke="#c0c4c4" stroke-width="1.4"/>
<line x1="132.9" x2="132.9" y1="679.4" y2="682" stroke="#c0c4c4" stroke-width="1.4"/>
<line x1="142.9" x2="142.9" y1="654" y2="658.5" stroke="#c0c4c4" stroke-width="1.4"/>
<line x1="142.9" x2="142.9" y1="677.8" y2="682" stroke="#c0c4c4" stroke-width="1.4"/>
<line x1="152.9" x2="152.9" y1="654" y2="656.8" stroke="#c0c4c4" stroke-width="1.4"/>
<line x1="152.9" x2="152.9" y1="679.4" y2="682" stroke="#c0c4c4" stroke-width="1.4"/>
<line x1="162.9" x2="162.9" y1="654" y2="656.8" stroke="#c0c4c4" stroke-width="1.4"/>
<line x1="162.9" x2="162.9" y1="679.4" y2="682" stroke="#c0c4c4" stroke-width="1.4"/>
<line x1="172.9" x2="172.9" y1="654" y2="656.8" stroke="#c0c4c4" stroke-width="1.4"/>
<line x1="172.9" x2="172.9" y1="679.4" y2="682" stroke="#c0c4c4" stroke-width="1.4"/>
<line x1="182.9" x2="182.9" y1="654" y2="658.5" stroke="#c0c4c4" stroke-width="1.4"/>
<line x1="182.9" x2="182.9" y1="677.8" y2="682" stroke="#c0c4c4" stroke-width="1.4"/>
<line x1="192.9" x2="192.9" y1="654" y2="656.8" stroke="#c0c4c4" stroke-width="1.4"/>
<line x1="192.9" x2="192.9" y1="679.4" y2="682" stroke="#c0c4c4" stroke-width="1.4"/>
<line x1="202.9" x2="202.9" y1="654" y2="656.8" stroke="#c0c4c4" stroke-width="1.4"/>
<line x1="202.9" x2="202.9" y1="679.4" y2="682" stroke="#c0c4c4" stroke-width="1.4"/>
<line x1="212.9" x2="212.9" y1="654" y2="656.8" stroke="#c0c4c4" stroke-width="1.4"/>
<line x1="212.9" x2="212.9" y1="679.4" y2="682" stroke="#c0c4c4" stroke-width="1.4"/>
<line x1="222.9" x2="222.9" y1="654" y2="656.8" stroke="#c0c4c4" stroke-width="1.4"/>
<line x1="222.9" x2="222.9" y1="679.4" y2="682" stroke="#c0c4c4" stroke-width="1.4"/>
<line x1="232.9" x2="232.9" y1="654" y2="658.5" stroke="#c0c4c4" stroke-width="1.4"/>
<line x1="232.9" x2="232.9" y1="677.8" y2="682" stroke="#c0c4c4" stroke-width="1.4"/>
<line x1="242.9" x2="242.9" y1="654" y2="656.8" stroke="#c0c4c4" stroke-width="1.4"/>
<line x1="242.9" x2="242.9" y1="679.4" y2="682" stroke="#c0c4c4" stroke-width="1.4"/>
<line x1="252.9" x2="252.9" y1="654" y2="656.8" stroke="#c0c4c4" stroke-width="1.4"/>
<line x1="252.9" x2="252.9" y1="679.4" y2="682" stroke="#c0c4c4" stroke-width="1.4"/>
<line x1="262.9" x2="262.9" y1="654" y2="656.8" stroke="#c0c4c4" stroke-width="1.4"/>
<line x1="262.9" x2="262.9" y1="679.4" y2="682" stroke="#c0c4c4" stroke-width="1.4"/>
<line x1="272.9" x2="272.9" y1="654" y2="656.8" stroke="#c0c4c4" stroke-width="1.4"/>
<line x1="272.9" x2="272.9" y1="679.4" y2="682" stroke="#c0c4c4" stroke-width="1.4"/>
<line x1="282.9" x2="282.9" y1="654" y2="658.5" stroke="#c0c4c4" stroke-width="1.4"/>
<line x1="282.9" x2="282.9" y1="677.8" y2="682" stroke="#c0c4c4" stroke-width="1.4"/>
<line x1="292.9" x2="292.9" y1="654" y2="656.8" stroke="#c0c4c4" stroke-width="1.4"/>
<line x1="292.9" x2="292.9" y1="679.4" y2="682" stroke="#c0c4c4" stroke-width="1.4"/>
<line x1="302.9" x2="302.9" y1="654" y2="656.8" stroke="#c0c4c4" stroke-width="1.4"/>
<line x1="302.9" x2="302.9" y1="679.4" y2="682" stroke="#c0c4c4" stroke-width="1.4"/>
<line x1="312.9" x2="312.9" y1="654" y2="656.8" stroke="#c0c4c4" stroke-width="1.4"/>
<line x1="312.9" x2="312.9" y1="679.4" y2="682" stroke="#c0c4c4" stroke-width="1.4"/>
<line x1="322.9" x2="322.9" y1="654" y2="658.5" stroke="#c0c4c4" stroke-width="1.4"/>
<line x1="322.9" x2="322.9" y1="677.8" y2="682" stroke="#c0c4c4" stroke-width="1.4"/>
<line x1="332.9" x2="332.9" y1="654" y2="656.8" stroke="#c0c4c4" stroke-width="1.4"/>
<line x1="332.9" x2="332.9" y1="679.4" y2="682" stroke="#c0c4c4" stroke-width="1.4"/>
<line x1="342.9" x2="342.9" y1="654" y2="656.8" stroke="#c0c4c4" stroke-width="1.4"/>
<line x1="342.9" x2="342.9" y1="679.4" y2="682" stroke="#c0c4c4" stroke-width="1.4"/>
<line x1="352.9" x2="352.9" y1="654" y2="656.8" stroke="#c0c4c4" stroke-width="1.4"/>
<line x1="352.9" x2="352.9" y1="679.4" y2="682" stroke="#c0c4c4" stroke-width="1.4"/>
<line x1="362.9" x2="362.9" y1="654" y2="656.8" stroke="#c0c4c4" stroke-width="1.4"/>
<line x1="362.9" x2="362.9" y1="679.4" y2="682" stroke="#c0c4c4" stroke-width="1.4"/>
<line x1="372.9" x2="372.9" y1="654" y2="658.5" stroke="#c0c4c4" stroke-width="1.4"/>
<line x1="372.9" x2="372.9" y1="677.8" y2="682" stroke="#c0c4c4" stroke-width="1.4"/>
<line x1="382.9" x2="382.9" y1="654" y2="658.5" stroke="#c0c4c4" stroke-width="1.4"/>
<line x1="382.9" x2="382.9" y1="677.8" y2="682" stroke="#c0c4c4" stroke-width="1.4"/>
<line x1="392.9" x2="392.9" y1="654" y2="656.8" stroke="#c0c4c4" stroke-width="1.4"/>
<line x1="392.9" x2="392.9" y1="679.4" y2="682" stroke="#c0c4c4" stroke-width="1.4"/>
<line x1="402.9" x2="402.9" y1="654" y2="656.8" stroke="#c0c4c4" stroke-width="1.4"/>
<line x1="402.9" x2="402.9" y1="679.4" y2="682" stroke="#c0c4c4" stroke-width="1.4"/>
<line x1="412.9" x2="412.9" y1="654" y2="658.5" stroke="#c0c4c4" stroke-width="1.4"/>
<line x1="412.9" x2="412.9" y1="677.8" y2="682" stroke="#c0c4c4" stroke-width="1.4"/>
<line x1="422.9" x2="422.9" y1="654" y2="656.8" stroke="#c0c4c4" stroke-width="1.4"/>
<line x1="422.9" x2="422.9" y1="679.4" y2="682" stroke="#c0c4c4" stroke-width="1.4"/>
<line x1="432.9" x2="432.9" y1="654" y2="656.8" stroke="#c0c4c4" stroke-width="1.4"/>
<line x1="432.9" x2="432.9" y1="679.4" y2="682" stroke="#c0c4c4" stroke-width="1.4"/>
<line x1="442.9" x2="442.9" y1="654" y2="656.8" stroke="#c0c4c4" stroke-width="1.4"/>
<line x1="442.9" x2="442.9" y1="679.4" y2="682" stroke="#c0c4c4" stroke-width="1.4"/>
<line x1="452.9" x2="452.9" y1="654" y2="656.8" stroke="#c0c4c4" stroke-width="1.4"/>
<line x1="452.9" x2="452.9" y1="679.4" y2="682" stroke="#c0c4c4" stroke-width="1.4"/>
<line x1="462.9" x2="462.9" y1="654" y2="658.5" stroke="#c0c4c4" stroke-width="1.4"/>
<line x1="462.9" x2="462.9" y1="677.8" y2="682" stroke="#c0c4c4" stroke-width="1.4"/>
<line x1="472.9" x2="472.9" y1="654" y2="656.8" stroke="#c0c4c4" stroke-width="1.4"/>
<line x1="472.9" x2="472.9" y1="679.4" y2="682" stroke="#c0c4c4" stroke-width="1.4"/>
<line x1="482.9" x2="482.9" y1="654" y2="656.8" stroke="#c0c4c4" stroke-width="1.4"/>
<line x1="482.9" x2="482.9" y1="679.4" y2="682" stroke="#c0c4c4" stroke-width="1.4"/>
<line x1="492.9" x2="492.9" y1="654" y2="656.8" stroke="#c0c4c4" stroke-width="1.4"/>
<line x1="492.9" x2="492.9" y1="679.4" y2="682" stroke="#c0c4c4" stroke-width="1.4"/>
<line x1="502.9" x2="502.9" y1="654" y2="656.8" stroke="#c0c4c4" stroke-width="1.4"/>
<line x1="502.9" x2="502.9" y1="679.4" y2="682" stroke="#c0c4c4" stroke-width="1.4"/>
<line x1="512.9" x2="512.9" y1="654" y2="658.5" stroke="#c0c4c4" stroke-width="1.4"/>
<line x1="512.9" x2="512.9" y1="677.8" y2="682" stroke="#c0c4c4" stroke-width="1.4"/>
<line x1="522.9" x2="522.9" y1="654" y2="656.8" stroke="#c0c4c4" stroke-width="1.4"/>
<line x1="522.9" x2="522.9" y1="679.4" y2="682" stroke="#c0c4c4" stroke-width="1.4"/>
<line x1="532.9" x2="532.9" y1="654" y2="656.8" stroke="#c0c4c4" stroke-width="1.4"/>
<line x1="532.9" x2="532.9" y1="679.4" y2="682" stroke="#c0c4c4" stroke-width="1.4"/>
<line x1="542.9" x2="542.9" y1="654" y2="656.8" stroke="#c0c4c4" stroke-width="1.4"/>
<line x1="542.9" x2="542.9" y1="679.4" y2="682" stroke="#c0c4c4" stroke-width="1.4"/>
<line x1="552.9" x2="552.9" y1="654" y2="656.8" stroke="#c0c4c4" stroke-width="1.4"/>
<line x1="552.9" x2="552.9" y1="679.4" y2="682" stroke="#c0c4c4" stroke-width="1.4"/>
<line x1="562.9" x2="562.9" y1="654" y2="658.5" stroke="#c0c4c4" stroke-width="1.4"/>
<line x1="562.9" x2="562.9" y1="677.8" y2="682" stroke="#c0c4c4" stroke-width="1.4"/>
<line x1="572.9" x2="572.9" y1="654" y2="656.8" stroke="#c0c4c4" stroke-width="1.4"/>
<line x1="572.9" x2="572.9" y1="679.4" y2="682" stroke="#c0c4c4" stroke-width="1.4"/>
<line x1="582.9" x2="582.9" y1="654" y2="656.8" stroke="#c0c4c4" stroke-width="1.4"/>
<line x1="582.9" x2="582.9" y1="679.4" y2="682" stroke="#c0c4c4" stroke-width="1.4"/>
<line x1="592.9" x2="592.9" y1="654" y2="656.8" stroke="#c0c4c4" stroke-width="1.4"/>
<line x1="592.9" x2="592.9" y1="679.4" y2="682" stroke="#c0c4c4" stroke-width="1.4"/>
<line x1="602.9" x2="602.9" y1="654" y2="658.5" stroke="#c0c4c4" stroke-width="1.4"/>
<line x1="602.9" x2="602.9" y1="677.8" y2="682" stroke="#c0c4c4" stroke-width="1.4"/>
<line x1="612.9" x2="612.9" y1="654" y2="658.5" stroke="#c0c4c4" stroke-width="1.4"/>
<line x1="612.9" x2="612.9" y1="677.8" y2="682" stroke="#c0c4c4" stroke-width="1.4"/>
<line x1="622.9" x2="622.9" y1="654" y2="656.8" stroke="#c0c4c4" stroke-width="1.4"/>
<line x1="622.9" x2="622.9" y1="679.4" y2="682" stroke="#c0c4c4" stroke-width="1.4"/>
<line x1="632.9" x2="632.9" y1="654" y2="656.8" stroke="#c0c4c4" stroke-width="1.4"/>
<line x1="632.9" x2="632.9" y1="679.4" y2="682" stroke="#c0c4c4" stroke-width="1.4"/>
<line x1="642.9" x2="642.9" y1="654" y2="656.8" stroke="#c0c4c4" stroke-width="1.4"/>
<line x1="642.9" x2="642.9" y1="679.4" y2="682" stroke="#c0c4c4" stroke-width="1.4"/>
<line x1="652.9" x2="652.9" y1="654" y2="656.8" stroke="#c0c4c4" stroke-width="1.4"/>
<line x1="652.9" x2="652.9" y1="679.4" y2="682" stroke="#c0c4c4" stroke-width="1.4"/>
<line x1="662.9" x2="662.9" y1="654" y2="658.5" stroke="#c0c4c4" stroke-width="1.4"/>
<line x1="662.9" x2="662.9" y1="677.8" y2="682" stroke="#c0c4c4" stroke-width="1.4"/>
<line x1="672.9" x2="672.9" y1="654" y2="656.8" stroke="#c0c4c4" stroke-width="1.4"/>
<line x1="672.9" x2="672.9" y1="679.4" y2="682" stroke="#c0c4c4" stroke-width="1.4"/>
<line x1="682.9" x2="682.9" y1="654" y2="656.8" stroke="#c0c4c4" stroke-width="1.4"/>
<line x1="682.9" x2="682.9" y1="679.4" y2="682" stroke="#c0c4c4" stroke-width="1.4"/>
<line x1="692.9" x2="692.9" y1="654" y2="656.8" stroke="#c0c4c4" stroke-width="1.4"/>
<line x1="692.9" x2="692.9" y1="679.4" y2="682" stroke="#c0c4c4" stroke-width="1.4"/>
<line x1="702.9" x2="702.9" y1="654" y2="656.8" stroke="#c0c4c4" stroke-width="1.4"/>
<line x1="702.9" x2="702.9" y1="679.4" y2="682" stroke="#c0c4c4" stroke-width="1.4"/>
<line x1="712.9" x2="712.9" y1="654" y2="658.5" stroke="#c0c4c4" stroke-width="1.4"/>
<line x1="712.9" x2="712.9" y1="677.8" y2="682" stroke="#c0c4c4" stroke-width="1.4"/>
<line x1="722.9" x2="722.9" y1="654" y2="656.8" stroke="#c0c4c4" stroke-width="1.4"/>
<line x1="722.9" x2="722.9" y1="679.4" y2="682" stroke="#c0c4c4" stroke-width="1.4"/>
<line x1="732.9" x2="732.9" y1="654" y2="656.8" stroke="#c0c4c4" stroke-width="1.4"/>
<line x1="732.9" x2="732.9" y1="679.4" y2="682" stroke="#c0c4c4" stroke-width="1.4"/>
<line x1="742.9" x2="742.9" y1="654" y2="656.8" stroke="#c0c4c4" stroke-width="1.4"/>
<line x1="742.9" x2="742.9" y1="679.4" y2="682" stroke="#c0c4c4" stroke-width="1.4"/>
<line x1="752.9" x2="752.9" y1="654" y2="656.8" stroke="#c0c4c4" stroke-width="1.4"/>
<line x1="752.9" x2="752.9" y1="679.4" y2="682" stroke="#c0c4c4" stroke-width="1.4"/>
<line x1="762.9" x2="762.9" y1="654" y2="658.5" stroke="#c0c4c4" stroke-width="1.4"/>
<line x1="762.9" x2="762.9" y1="677.8" y2="682" stroke="#c0c4c4" stroke-width="1.4"/>
<line x1="772.9" x2="772.9" y1="654" y2="656.8" stroke="#c0c4c4" stroke-width="1.4"/>
<line x1="772.9" x2="772.9" y1="679.4" y2="682" stroke="#c0c4c4" stroke-width="1.4"/>
<line x1="782.9" x2="782.9" y1="654" y2="656.8" stroke="#c0c4c4" stroke-width="1.4"/>
<line x1="782.9" x2="782.9" y1="679.4" y2="682" stroke="#c0c4c4" stroke-width="1.4"/>
<line x1="792.9" x2="792.9" y1="654" y2="656.8" stroke="#c0c4c4" stroke-width="1.4"/>
<line x1="792.9" x2="792.9" y1="679.4" y2="682" stroke="#c0c4c4" stroke-width="1.4"/>
<line x1="802.9" x2="802.9" y1="654" y2="656.8" stroke="#c0c4c4" stroke-width="1.4"/>
<line x1="802.9" x2="802.9" y1="679.4" y2="682" stroke="#c0c4c4" stroke-width="1.4"/>
<line x1="812.9" x2="812.9" y1="654" y2="658.5" stroke="#c0c4c4" stroke-width="1.4"/>
<line x1="812.9" x2="812.9" y1="677.8" y2="682" stroke="#c0c4c4" stroke-width="1.4"/>
<line x1="822.9" x2="822.9" y1="654" y2="656.8" stroke="#c0c4c4" stroke-width="1.4"/>
<line x1="822.9" x2="822.9" y1="679.4" y2="682" stroke="#c0c4c4" stroke-width="1.4"/>
<line x1="832.9" x2="832.9" y1="654" y2="656.8" stroke="#c0c4c4" stroke-width="1.4"/>
<line x1="832.9" x2="832.9" y1="679.4" y2="682" stroke="#c0c4c4" stroke-width="1.4"/>
<line x1="842.9" x2="842.9" y1="654" y2="656.8" stroke="#c0c4c4" stroke-width="1.4"/>
<line x1="842.9" x2="842.9" y1="679.4" y2="682" stroke="#c0c4c4" stroke-width="1.4"/>
<line x1="852.9" x2="852.9" y1="654" y2="658.5" stroke="#c0c4c4" stroke-width="1.4"/>
<line x1="852.9" x2="852.9" y1="677.8" y2="682" stroke="#c0c4c4" stroke-width="1.4"/>
<line x1="862.9" x2="862.9" y1="654" y2="656.8" stroke="#c0c4c4" stroke-width="1.4"/>
<line x1="862.9" x2="862.9" y1="679.4" y2="682" stroke="#c0c4c4" stroke-width="1.4"/>
<line x1="872.9" x2="872.9" y1="654" y2="656.8" stroke="#c0c4c4" stroke-width="1.4"/>
<line x1="872.9" x2="872.9" y1="679.4" y2="682" stroke="#c0c4c4" stroke-width="1.4"/>
<line x1="882.9" x2="882.9" y1="654" y2="656.8" stroke="#c0c4c4" stroke-width="1.4"/>
<line x1="882.9" x2="882.9" y1="679.4" y2="682" stroke="#c0c4c4" stroke-width="1.4"/>
<line x1="892.9" x2="892.9" y1="654" y2="656.8" stroke="#c0c4c4" stroke-width="1.4"/>
<line x1="892.9" x2="892.9" y1="679.4" y2="682" stroke="#c0c4c4" stroke-width="1.4"/>
<line x1="902.9" x2="902.9" y1="654" y2="658.5" stroke="#c0c4c4" stroke-width="1.4"/>
<line x1="902.9" x2="902.9" y1="677.8" y2="682" stroke="#c0c4c4" stroke-width="1.4"/>
<line x1="912.9" x2="912.9" y1="654" y2="656.8" stroke="#c0c4c4" stroke-width="1.4"/>
<line x1="912.9" x2="912.9" y1="679.4" y2="682" stroke="#c0c4c4" stroke-width="1.4"/>
<line x1="922.9" x2="922.9" y1="654" y2="656.8" stroke="#c0c4c4" stroke-width="1.4"/>
<line x1="922.9" x2="922.9" y1="679.4" y2="682" stroke="#c0c4c4" stroke-width="1.4"/>
<line x1="932.9" x2="932.9" y1="654" y2="656.8" stroke="#c0c4c4" stroke-width="1.4"/>
<line x1="932.9" x2="932.9" y1="679.4" y2="682" stroke="#c0c4c4" stroke-width="1.4"/>
<line x1="942.9" x2="942.9" y1="654" y2="656.8" stroke="#c0c4c4" stroke-width="1.4"/>
<line x1="942.9" x2="942.9" y1="679.4" y2="682" stroke="#c0c4c4" stroke-width="1.4"/>
<line x1="952.9" x2="952.9" y1="654" y2="658.5" stroke="#c0c4c4" stroke-width="1.4"/>
<line x1="952.9" x2="952.9" y1="677.8" y2="682" stroke="#c0c4c4" stroke-width="1.4"/>
<line x1="962.9" x2="962.9" y1="654" y2="656.8" stroke="#c0c4c4" stroke-width="1.4"/>
<line x1="962.9" x2="962.9" y1="679.4" y2="682" stroke="#c0c4c4" stroke-width="1.4"/>
<line x1="972.9" x2="972.9" y1="654" y2="656.8" stroke="#c0c4c4" stroke-width="1.4"/>
<line x1="972.9" x2="972.9" y1="679.4" y2="682" stroke="#c0c4c4" stroke-width="1.4"/>
<line x1="982.9" x2="982.9" y1="654" y2="656.8" stroke="#c0c4c4" stroke-width="1.4"/>
<line x1="982.9" x2="982.9" y1="679.4" y2="682" stroke="#c0c4c4" stroke-width="1.4"/>
<line x1="992.9" x2="992.9" y1="654" y2="656.8" stroke="#c0c4c4" stroke-width="1.4"/>
<line x1="992.9" x2="992.9" y1="679.4" y2="682" stroke="#c0c4c4" stroke-width="1.4"/>
<line x1="1002.9" x2="1002.9" y1="654" y2="658.5" stroke="#c0c4c4" stroke-width="1.4"/>
<line x1="1002.9" x2="1002.9" y1="677.8" y2="682" stroke="#c0c4c4" stroke-width="1.4"/>
<line x1="1012.9" x2="1012.9" y1="654" y2="656.8" stroke="#c0c4c4" stroke-width="1.4"/>
<line x1="1012.9" x2="1012.9" y1="679.4" y2="682" stroke="#c0c4c4" stroke-width="1.4"/>
<line x1="1022.9" x2="1022.9" y1="654" y2="658.5" stroke="#c0c4c4" stroke-width="1.4"/>
<line x1="1022.9" x2="1022.9" y1="677.8" y2="682" stroke="#c0c4c4" stroke-width="1.4"/>
<line x1="1032.9" x2="1032.9" y1="654" y2="656.8" stroke="#c0c4c4" stroke-width="1.4"/>
<line x1="1032.9" x2="1032.9" y1="679.4" y2="682" stroke="#c0c4c4" stroke-width="1.4"/>
<line x1="1042.9" x2="1042.9" y1="654" y2="656.8" stroke="#c0c4c4" stroke-width="1.4"/>
<line x1="1042.9" x2="1042.9" y1="679.4" y2="682" stroke="#c0c4c4" stroke-width="1.4"/>
<line x1="1052.9" x2="1052.9" y1="654" y2="658.5" stroke="#c0c4c4" stroke-width="1.4"/>
<line x1="1052.9" x2="1052.9" y1="677.8" y2="682" stroke="#c0c4c4" stroke-width="1.4"/>
<line x1="1062.9" x2="1062.9" y1="654" y2="656.8" stroke="#c0c4c4" stroke-width="1.4"/>
<line x1="1062.9" x2="1062.9" y1="679.4" y2="682" stroke="#c0c4c4" stroke-width="1.4"/>
<line x1="1072.9" x2="1072.9" y1="654" y2="656.8" stroke="#c0c4c4" stroke-width="1.4"/>
<line x1="1072.9" x2="1072.9" y1="679.4" y2="682" stroke="#c0c4c4" stroke-width="1.4"/>
<line x1="1082.9" x2="1082.9" y1="654" y2="656.8" stroke="#c0c4c4" stroke-width="1.4"/>
<line x1="1082.9" x2="1082.9" y1="679.4" y2="682" stroke="#c0c4c4" stroke-width="1.4"/>
<line x1="1092.9" x2="1092.9" y1="654" y2="656.8" stroke="#c0c4c4" stroke-width="1.4"/>
<line x1="1092.9" x2="1092.9" y1="679.4" y2="682" stroke="#c0c4c4" stroke-width="1.4"/>
<line x1="1102.9" x2="1102.9" y1="654" y2="658.5" stroke="#c0c4c4" stroke-width="1.4"/>
<line x1="1102.9" x2="1102.9" y1="677.8" y2="682" stroke="#c0c4c4" stroke-width="1.4"/>
<line x1="1112.9" x2="1112.9" y1="654" y2="656.8" stroke="#c0c4c4" stroke-width="1.4"/>
<line x1="1112.9" x2="1112.9" y1="679.4" y2="682" stroke="#c0c4c4" stroke-width="1.4"/>
<line x1="1122.9" x2="1122.9" y1="654" y2="656.8" stroke="#c0c4c4" stroke-width="1.4"/>
<line x1="1122.9" x2="1122.9" y1="679.4" y2="682" stroke="#c0c4c4" stroke-width="1.4"/>
<line x1="1132.9" x2="1132.9" y1="654" y2="656.8" stroke="#c0c4c4" stroke-width="1.4"/>
<line x1="1132.9" x2="1132.9" y1="679.4" y2="682" stroke="#c0c4c4" stroke-width="1.4"/>
<line x1="1142.9" x2="1142.9" y1="654" y2="656.8" stroke="#c0c4c4" stroke-width="1.4"/>
<line x1="1142.9" x2="1142.9" y1="679.4" y2="682" stroke="#c0c4c4" stroke-width="1.4"/>
<line x1="1152.9" x2="1152.9" y1="654" y2="658.5" stroke="#c0c4c4" stroke-width="1.4"/>
<line x1="1152.9" x2="1152.9" y1="677.8" y2="682" stroke="#c0c4c4" stroke-width="1.4"/>
<line x1="1162.9" x2="1162.9" y1="654" y2="656.8" stroke="#c0c4c4" stroke-width="1.4"/>
<line x1="1162.9" x2="1162.9" y1="679.4" y2="682" stroke="#c0c4c4" stroke-width="1.4"/>
<line x1="1172.9" x2="1172.9" y1="654" y2="656.8" stroke="#c0c4c4" stroke-width="1.4"/>
<line x1="1172.9" x2="1172.9" y1="679.4" y2="682" stroke="#c0c4c4" stroke-width="1.4"/>
<line x1="1182.9" x2="1182.9" y1="654" y2="656.8" stroke="#c0c4c4" stroke-width="1.4"/>
<line x1="1182.9" x2="1182.9" y1="679.4" y2="682" stroke="#c0c4c4" stroke-width="1.4"/>
<line x1="1192.9" x2="1192.9" y1="654" y2="656.8" stroke="#c0c4c4" stroke-width="1.4"/>
<line x1="1192.9" x2="1192.9" y1="679.4" y2="682" stroke="#c0c4c4" stroke-width="1.4"/>
<line x1="1202.9" x2="1202.9" y1="654" y2="658.5" stroke="#c0c4c4" stroke-width="1.4"/>
<line x1="1202.9" x2="1202.9" y1="677.8" y2="682" stroke="#c0c4c4" stroke-width="1.4"/>
<line x1="1212.9" x2="1212.9" y1="654" y2="656.8" stroke="#c0c4c4" stroke-width="1.4"/>
<line x1="1212.9" x2="1212.9" y1="679.4" y2="682" stroke="#c0c4c4" stroke-width="1.4"/>
<line x1="1222.9" x2="1222.9" y1="654" y2="656.8" stroke="#c0c4c4" stroke-width="1.4"/>
<line x1="1222.9" x2="1222.9" y1="679.4" y2="682" stroke="#c0c4c4" stroke-width="1.4"/>
<line x1="1232.9" x2="1232.9" y1="654" y2="656.8" stroke="#c0c4c4" stroke-width="1.4"/>
<line x1="1232.9" x2="1232.9" y1="679.4" y2="682" stroke="#c0c4c4" stroke-width="1.4"/>
<line x1="1242.9" x2="1242.9" y1="654" y2="656.8" stroke="#c0c4c4" stroke-width="1.4"/>
<line x1="1242.9" x2="1242.9" y1="679.4" y2="682" stroke="#c0c4c4" stroke-width="1.4"/>
<line x1="1252.9" x2="1252.9" y1="654" y2="658.5" stroke="#c0c4c4" stroke-width="1.4"/>
<line x1="1252.9" x2="1252.9" y1="677.8" y2="682" stroke="#c0c4c4" stroke-width="1.4"/>
<line x1="1262.9" x2="1262.9" y1="654" y2="656.8" stroke="#c0c4c4" stroke-width="1.4"/>
<line x1="1262.9" x2="1262.9" y1="679.4" y2="682" stroke="#c0c4c4" stroke-width="1.4"/>
<line x1="1272.9" x2="1272.9" y1="654" y2="656.8" stroke="#c0c4c4" stroke-width="1.4"/>
<line x1="1272.9" x2="1272.9" y1="679.4" y2="682" stroke="#c0c4c4" stroke-width="1.4"/>
<line x1="1282.9" x2="1282.9" y1="654" y2="656.8" stroke="#c0c4c4" stroke-width="1.4"/>
<line x1="1282.9" x2="1282.9" y1="679.4" y2="682" stroke="#c0c4c4" stroke-width="1.4"/>
<line x1="1292.9" x2="1292.9" y1="654" y2="656.8" stroke="#c0c4c4" stroke-width="1.4"/>
<line x1="1292.9" x2="1292.9" y1="679.4" y2="682" stroke="#c0c4c4" stroke-width="1.4"/>
<line x1="1302.9" x2="1302.9" y1="654" y2="658.5" stroke="#c0c4c4" stroke-width="1.4"/>
<line x1="1302.9" x2="1302.9" y1="677.8" y2="682" stroke="#c0c4c4" stroke-width="1.4"/>
<line x1="1312.9" x2="1312.9" y1="654" y2="656.8" stroke="#c0c4c4" stroke-width="1.4"/>
<line x1="1312.9" x2="1312.9" y1="679.4" y2="682" stroke="#c0c4c4" stroke-width="1.4"/>
<text x="31.0" y="675.0" font-size="19" font-weight="normal" font-style="normal" fill="#000" text-anchor="start" textLength="20.8" lengthAdjust="spacingAndGlyphs">12</text>
<text x="81.7" y="675.0" font-size="19" font-weight="normal" font-style="normal" fill="#000" text-anchor="start" textLength="20.6" lengthAdjust="spacingAndGlyphs">19</text>
<text x="128.6" y="675.0" font-size="19" font-weight="normal" font-style="normal" fill="#000" text-anchor="start" textLength="21.7" lengthAdjust="spacingAndGlyphs">27</text>
<text x="165.1" y="675.0" font-size="21" font-weight="bold" font-style="normal" fill="#000" text-anchor="start" textLength="38.9" lengthAdjust="spacingAndGlyphs">Jun</text>
<text x="227.3" y="675.0" font-size="19" font-weight="normal" font-style="normal" fill="#000" text-anchor="start" textLength="11.0" lengthAdjust="spacingAndGlyphs">9</text>
<text x="272.6" y="675.0" font-size="19" font-weight="normal" font-style="normal" fill="#000" text-anchor="start" textLength="20.5" lengthAdjust="spacingAndGlyphs">16</text>
<text x="308.5" y="675.0" font-size="19" font-weight="normal" font-style="normal" fill="#000" text-anchor="start" textLength="22.4" lengthAdjust="spacingAndGlyphs">23</text>
<text x="367.1" y="675.0" font-size="21" font-weight="bold" font-style="normal" fill="#000" text-anchor="start" textLength="30.6" lengthAdjust="spacingAndGlyphs">Jul</text>
<text x="407.1" y="675.0" font-size="19" font-weight="normal" font-style="normal" fill="#000" text-anchor="start" textLength="11.5" lengthAdjust="spacingAndGlyphs">7</text>
<text x="452.0" y="675.0" font-size="19" font-weight="normal" font-style="normal" fill="#000" text-anchor="start" textLength="22.3" lengthAdjust="spacingAndGlyphs">14</text>
<text x="498.6" y="675.0" font-size="19" font-weight="normal" font-style="normal" fill="#000" text-anchor="start" textLength="21.4" lengthAdjust="spacingAndGlyphs">21</text>
<text x="548.6" y="675.0" font-size="19" font-weight="normal" font-style="normal" fill="#000" text-anchor="start" textLength="22.8" lengthAdjust="spacingAndGlyphs">28</text>
<text x="582.9" y="675.0" font-size="21" font-weight="bold" font-style="normal" fill="#000" text-anchor="start" textLength="43.4" lengthAdjust="spacingAndGlyphs">Aug</text>
<text x="652.9" y="675.0" font-size="19" font-weight="normal" font-style="normal" fill="#000" text-anchor="start" textLength="19.1" lengthAdjust="spacingAndGlyphs">11</text>
<text x="701.1" y="675.0" font-size="19" font-weight="normal" font-style="normal" fill="#000" text-anchor="start" textLength="20.6" lengthAdjust="spacingAndGlyphs">18</text>
<text x="749.8" y="675.0" font-size="19" font-weight="normal" font-style="normal" fill="#000" text-anchor="start" textLength="22.2" lengthAdjust="spacingAndGlyphs">25</text>
<text x="793.7" y="675.0" font-size="21" font-weight="bold" font-style="normal" fill="#000" text-anchor="start" textLength="41.2" lengthAdjust="spacingAndGlyphs">Sep</text>
<text x="848.6" y="675.0" font-size="19" font-weight="normal" font-style="normal" fill="#000" text-anchor="start" textLength="10.3" lengthAdjust="spacingAndGlyphs">8</text>
<text x="891.5" y="675.0" font-size="19" font-weight="normal" font-style="normal" fill="#000" text-anchor="start" textLength="19.9" lengthAdjust="spacingAndGlyphs">15</text>
<text x="940.0" y="675.0" font-size="19" font-weight="normal" font-style="normal" fill="#000" text-anchor="start" textLength="21.7" lengthAdjust="spacingAndGlyphs">22</text>
<text x="1006.9" y="675.0" font-size="21" font-weight="bold" font-style="normal" fill="#000" text-anchor="start" textLength="34.2" lengthAdjust="spacingAndGlyphs">Oct</text>
<text x="1046.9" y="675.0" font-size="19" font-weight="normal" font-style="normal" fill="#000" text-anchor="start" textLength="10.2" lengthAdjust="spacingAndGlyphs">6</text>
<text x="1091.4" y="675.0" font-size="19" font-weight="normal" font-style="normal" fill="#000" text-anchor="start" textLength="20.6" lengthAdjust="spacingAndGlyphs">13</text>
<text x="1139.9" y="675.0" font-size="19" font-weight="normal" font-style="normal" fill="#000" text-anchor="start" textLength="22.4" lengthAdjust="spacingAndGlyphs">20</text>
<text x="1190.9" y="675.0" font-size="19" font-weight="normal" font-style="normal" fill="#000" text-anchor="start" textLength="21.7" lengthAdjust="spacingAndGlyphs">27</text>
<text x="1233.1" y="675.0" font-size="21" font-weight="bold" font-style="normal" fill="#000" text-anchor="start" textLength="39.4" lengthAdjust="spacingAndGlyphs">Nov</text>
<text x="1291.4" y="675.0" font-size="19" font-weight="normal" font-style="normal" fill="#000" text-anchor="start" textLength="20.6" lengthAdjust="spacingAndGlyphs">10</text>
<text x="28.9" y="46.8" font-size="27" font-weight="bold" font-style="normal" fill="#000" text-anchor="start" textLength="63.4" lengthAdjust="spacingAndGlyphs">$TNX</text>
<text x="102.0" y="45.0" font-size="19.5" font-weight="normal" font-style="normal" fill="#000" text-anchor="start" textLength="326.8" lengthAdjust="spacingAndGlyphs">CBOE 10-Year US Treasury Yield</text>
<text x="439.5" y="45.0" font-size="17.5" font-weight="normal" font-style="normal" fill="#000" text-anchor="start" textLength="46.9" lengthAdjust="spacingAndGlyphs">INDX</text>
<text x="28.9" y="71.8" font-size="18.5" font-weight="normal" font-style="normal" fill="#000" text-anchor="start" textLength="118.1" lengthAdjust="spacingAndGlyphs">10-Nov-2025</text>
<text x="1135.2" y="44.8" font-size="20" font-weight="normal" font-style="normal" fill="#444" text-anchor="start" textLength="14.8" lengthAdjust="spacingAndGlyphs">&#169;</text>
<text x="1155.3" y="44.8" font-size="21.5" font-weight="normal" font-style="normal" fill="#444" text-anchor="start" textLength="161.2" lengthAdjust="spacingAndGlyphs">StockCharts.com</text>
<text x="587.5" y="71.1" font-size="20" font-weight="bold" font-style="normal" fill="#000" text-anchor="start" textLength="56.8" lengthAdjust="spacingAndGlyphs">Open</text>
<text x="652.9" y="71.1" font-size="18" font-weight="normal" font-style="normal" fill="#000" text-anchor="start" textLength="52.4" lengthAdjust="spacingAndGlyphs">41.36</text>
<text x="718.8" y="71.1" font-size="20" font-weight="bold" font-style="normal" fill="#000" text-anchor="start" textLength="47.6" lengthAdjust="spacingAndGlyphs">High</text>
<text x="773.9" y="71.1" font-size="18" font-weight="normal" font-style="normal" fill="#000" text-anchor="start" textLength="52.5" lengthAdjust="spacingAndGlyphs">41.38</text>
<text x="840.3" y="71.1" font-size="20" font-weight="bold" font-style="normal" fill="#000" text-anchor="start" textLength="46.5" lengthAdjust="spacingAndGlyphs">Low</text>
<text x="895.4" y="71.1" font-size="18" font-weight="normal" font-style="normal" fill="#000" text-anchor="start" textLength="52.5" lengthAdjust="spacingAndGlyphs">40.98</text>
<text x="961.8" y="71.1" font-size="20" font-weight="bold" font-style="normal" fill="#000" text-anchor="start" textLength="62.1" lengthAdjust="spacingAndGlyphs">Close</text>
<text x="1032.5" y="71.1" font-size="18" font-weight="normal" font-style="normal" fill="#000" text-anchor="start" textLength="52.5" lengthAdjust="spacingAndGlyphs">41.10</text>
<text x="1098.9" y="71.1" font-size="20" font-weight="bold" font-style="normal" fill="#000" text-anchor="start" textLength="43.6" lengthAdjust="spacingAndGlyphs">Chg</text>
<text x="1150.7" y="71.1" font-size="18" font-weight="normal" font-style="normal" fill="#000" text-anchor="start" textLength="51.0" lengthAdjust="spacingAndGlyphs">+0.17</text>
<text x="1210.7" y="71.1" font-size="18" font-weight="normal" font-style="normal" fill="#000" text-anchor="start" textLength="85.3" lengthAdjust="spacingAndGlyphs">(+0.42%)</text>
<polygon points="1302,69.5 1316.5,69.5 1309.2,62" fill="#2e6b2e"/>
<text x="1146.4" y="718.9" font-size="24.5" font-weight="normal" font-style="italic" fill="#111" text-anchor="start" textLength="233.4" lengthAdjust="spacingAndGlyphs">Source: StockCharts.com</text>
</svg>
</body></html>
